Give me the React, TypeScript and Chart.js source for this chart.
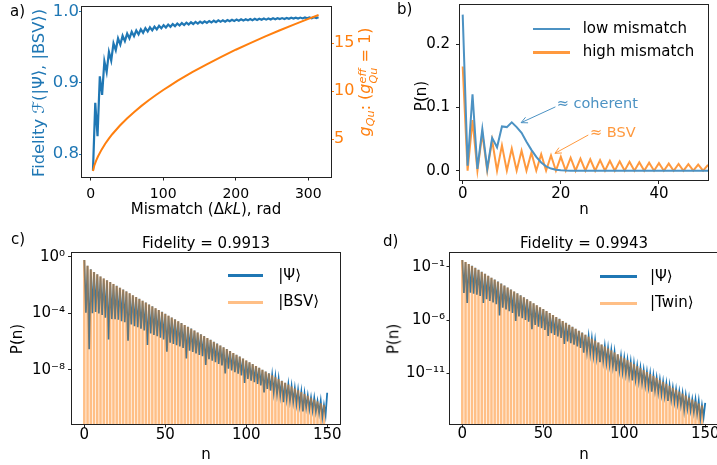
import React, { useEffect, useRef } from 'react';
import { Chart, registerables } from 'chart.js';

Chart.register(...registerables);

const FONT = "'DejaVu Sans', 'Liberation Sans', sans-serif";
const BLUE = '#1f77b4';
const ORANGE = '#ff7f0e';
const BLUE_B = '#4c92c3';
const ORANGE_B = '#ff993e';
const BAR_ORANGE = 'rgba(255,127,14,0.5)';
const SPINE = '#222222';

// ---------------- Panel a: fidelity and gain vs mismatch ----------------
const mismatchRad = [
  3.14, 6.28, 9.42, 12.57, 15.71, 18.85, 21.99, 25.13, 28.27, 31.42,
  34.56, 37.7, 40.84, 43.98, 47.12, 50.27, 53.41, 56.55, 59.69, 62.83,
  65.97, 69.12, 72.26, 75.4, 78.54, 81.68, 84.82, 87.96, 91.11, 94.25,
  97.39, 100.53, 103.67, 106.81, 109.96, 113.1, 116.24, 119.38, 122.52, 125.66,
  128.81, 131.95, 135.09, 138.23, 141.37, 144.51, 147.65, 150.8, 153.94, 157.08,
  160.22, 163.36, 166.5, 169.65, 172.79, 175.93, 179.07, 182.21, 185.35, 188.5,
  191.64, 194.78, 197.92, 201.06, 204.2, 207.35, 210.49, 213.63, 216.77, 219.91,
  223.05, 226.19, 229.34, 232.48, 235.62, 238.76, 241.9, 245.04, 248.19, 251.33,
  254.47, 257.61, 260.75, 263.89, 267.04, 270.18, 273.32, 276.46, 279.6, 282.74,
  285.88, 289.03, 292.17, 295.31, 298.45, 301.59, 304.73, 307.88, 311.02, 314.16,
];
const fidelityBSV = [
  0.777, 0.872, 0.825, 0.909, 0.883, 0.93, 0.915, 0.943, 0.931, 0.955,
  0.9455, 0.962, 0.9534, 0.9658, 0.9583, 0.9688, 0.962, 0.9712, 0.9652, 0.9731,
  0.9677, 0.9748, 0.9699, 0.9763, 0.9717, 0.9775, 0.9733, 0.9786, 0.9747, 0.9796,
  0.9761, 0.9805, 0.9773, 0.9814, 0.9783, 0.9821, 0.9792, 0.9829, 0.9801, 0.9835,
  0.9808, 0.9841, 0.9816, 0.9846, 0.9822, 0.9851, 0.9828, 0.9856, 0.9833, 0.986,
  0.9838, 0.9864, 0.9843, 0.9868, 0.9848, 0.9872, 0.9853, 0.9875, 0.9856, 0.9878,
  0.986, 0.9881, 0.9863, 0.9884, 0.9867, 0.9887, 0.987, 0.9889, 0.9873, 0.9892,
  0.9876, 0.9894, 0.9878, 0.9896, 0.9881, 0.9898, 0.9883, 0.99, 0.9886, 0.9902,
  0.9888, 0.9904, 0.9891, 0.9905, 0.9892, 0.9907, 0.9894, 0.9909, 0.9897, 0.991,
  0.9898, 0.9912, 0.99, 0.9913, 0.9902, 0.9914, 0.9903, 0.9916, 0.9905, 0.9917,
];
const mismatchRadG = [
  3.14, 5, 7.5, 10, 15, 20, 25, 30, 40, 50, 60, 70, 80, 90, 100, 110, 120, 130, 140,
  160, 180, 200, 220, 240, 260, 280, 300, 314.16,
];
const gQu = [
  1.7, 2.27, 2.78, 3.2, 3.92, 4.53, 5.07, 5.55, 6.41, 7.16, 7.85, 8.48, 9.06, 9.61, 10.13, 10.62, 11.1, 11.55, 11.99,
  12.81, 13.59, 14.33, 15.02, 15.69, 16.33, 16.95, 17.55, 17.95,
];
const aXTicks = [0, 100, 200, 300];
const aYTicks = [0.8, 0.9, 1.0];
const aY2Ticks = [5, 10, 15];

// ---------------- Panel b: photon number distributions ----------------
const nB = Array.from({ length: 51 }, (_, i) => i);
const pLowMismatch = [
  0.247, 0.008, 0.121, 0.003, 0.066, 0.003, 0.052, 0.037, 0.07, 0.069,
  0.0765, 0.069, 0.06, 0.046, 0.033, 0.022, 0.013, 0.007, 0.0034, 0.0015,
  0.0006, 0.0002, 0.0001, 0, 0, 0, 0, 0, 0, 0,
  0, 0, 0, 0, 0, 0, 0, 0, 0, 0,
  0, 0, 0, 0, 0, 0, 0, 0, 0, 0, 0,
];
const pHighMismatch = [
  0.165, 0, 0.08, 0, 0.059, 0, 0.048, 0, 0.04, 0,
  0.035, 0, 0.0315, 0, 0.0285, 0, 0.026, 0, 0.024, 0,
  0.022, 0, 0.0205, 0, 0.019, 0, 0.018, 0, 0.0168, 0,
  0.0158, 0, 0.0149, 0, 0.014, 0, 0.0133, 0, 0.0126, 0,
  0.0119, 0, 0.0113, 0, 0.0108, 0, 0.0102, 0, 0.0098, 0, 0.0093,
];
const bXTicks = [0, 20, 40];
const bYTicks = [0, 0.1, 0.2];

// ---------------- Panels c, d: log10 P(n) ----------------
const nAll = Array.from({ length: 151 }, (_, i) => i);
const nEven = Array.from({ length: 75 }, (_, i) => 2 * i);
const log10BarsBSV = [
  -0.22, -0.62, -0.88, -1.07, -1.23, -1.38, -1.52, -1.65, -1.78, -1.91,
  -2.05, -2.18, -2.31, -2.44, -2.57, -2.71, -2.84, -2.97, -3.1, -3.23,
  -3.37, -3.5, -3.63, -3.76, -3.89, -4.03, -4.16, -4.29, -4.42, -4.55,
  -4.69, -4.82, -4.95, -5.08, -5.21, -5.35, -5.48, -5.61, -5.74, -5.87,
  -6.01, -6.14, -6.27, -6.4, -6.53, -6.67, -6.8, -6.93, -7.06, -7.19,
  -7.33, -7.46, -7.59, -7.72, -7.85, -7.99, -8.12, -8.25, -8.38, -8.51,
  -8.65, -8.78, -8.91, -9.04, -9.17, -9.31, -9.44, -9.57, -9.7, -9.83,
  -9.97, -10.1, -10.23, -10.36, -10.49,
];
const log10PsiC = [
  -0.22, -3.95, -0.62, -6.54, -0.88, -3.98, -1.07, -3.9, -1.23, -4.0,
  -1.38, -4.1, -1.52, -4.3, -1.65, -5.84, -1.78, -4.4, -1.91, -4.4,
  -2.05, -4.45, -2.18, -4.55, -2.31, -4.62, -2.44, -5.93, -2.57, -4.78,
  -2.71, -4.9, -2.84, -4.98, -2.97, -5.08, -3.1, -5.2, -3.23, -6.24,
  -3.37, -5.42, -3.5, -5.52, -3.63, -5.62, -3.76, -5.72, -3.89, -5.84,
  -4.03, -6.71, -4.16, -6.07, -4.29, -6.16, -4.42, -6.25, -4.55, -6.34,
  -4.69, -6.44, -4.82, -7.18, -4.95, -6.64, -5.08, -6.73, -5.21, -6.83,
  -5.35, -6.94, -5.48, -7.03, -5.61, -7.65, -5.74, -7.24, -5.87, -7.34,
  -6.01, -7.46, -6.14, -7.57, -6.27, -7.68, -6.4, -8.25, -6.53, -7.91,
  -6.67, -8.04, -6.8, -8.16, -6.93, -8.27, -7.06, -8.39, -7.19, -8.93,
  -7.33, -8.64, -7.46, -8.76, -7.59, -8.87, -7.72, -8.99, -7.85, -9.1,
  -7.99, -9.6, -8.12, -9.35, -8.25, -9.46, -8.38, -9.58, -8.51, -9.69,
  -8.65, -9.81, -8.78, -10.28, -8.91, -10.03, -9.04, -10.15, -9.17, -10.26,
  -9.31, -10.39, -9.44, -10.5, -9.57, -10.94, -9.7, -10.65, -9.83, -10.75,
  -9.97, -10.85, -10.0, -10.95, -10.23, -11.05, -10.2, -11.35, -10.49, -11.2,
  -9.62,
];
const log10BarsTwin = [
  -0.35, -0.53, -0.72, -0.9, -1.09, -1.27, -1.46, -1.64, -1.83, -2.01,
  -2.19, -2.38, -2.56, -2.75, -2.93, -3.12, -3.3, -3.48, -3.67, -3.85,
  -4.04, -4.22, -4.41, -4.59, -4.78, -4.96, -5.14, -5.33, -5.51, -5.7,
  -5.88, -6.07, -6.25, -6.44, -6.62, -6.8, -6.99, -7.17, -7.36, -7.54,
  -7.73, -7.91, -8.09, -8.28, -8.46, -8.65, -8.83, -9.02, -9.2, -9.39,
  -9.57, -9.75, -9.94, -10.12, -10.31, -10.49, -10.68, -10.86, -11.05, -11.23,
  -11.41, -11.6, -11.78, -11.97, -12.15, -12.34, -12.52, -12.7, -12.89, -13.07,
  -13.26, -13.44, -13.63, -13.81, -14.0,
];
const log10PsiD = [
  -0.35, -3.44, -0.53, -4.38, -0.72, -3.41, -0.9, -3.5, -1.09, -3.6,
  -1.27, -3.71, -1.46, -4.38, -1.64, -4.03, -1.83, -4.19, -2.01, -4.33,
  -2.19, -4.49, -2.38, -5.55, -2.56, -4.82, -2.75, -4.98, -2.93, -5.14,
  -3.12, -5.31, -3.3, -6.07, -3.48, -5.64, -3.67, -5.8, -3.85, -5.97,
  -4.04, -6.13, -4.22, -6.84, -4.41, -6.45, -4.59, -6.6, -4.78, -6.75,
  -4.96, -6.9, -5.14, -7.47, -5.33, -7.22, -5.51, -7.38, -5.7, -7.52,
  -5.88, -7.67, -6.07, -8.22, -6.25, -7.99, -6.44, -8.15, -6.62, -8.29,
  -6.8, -8.45, -6.99, -8.6, -7.17, -9.04, -7.36, -8.94, -7.54, -9.11,
  -7.73, -9.29, -7.91, -9.46, -8.09, -9.93, -8.28, -9.8, -8.46, -9.97,
  -8.65, -10.14, -8.83, -10.31, -9.02, -10.79, -9.2, -10.66, -9.39, -10.84,
  -9.57, -11.01, -9.75, -11.19, -9.94, -11.66, -10.12, -11.54, -10.31, -11.71,
  -10.49, -11.88, -10.68, -12.06, -10.86, -12.23, -11.05, -12.71, -11.23, -12.58,
  -11.41, -12.76, -11.6, -12.93, -11.78, -13.11, -11.97, -13.58, -12.15, -13.45,
  -12.34, -13.63, -12.52, -13.79, -12.7, -13.96, -12.89, -14.42, -13.07, -14.29,
  -13.26, -14.45, -13.44, -14.61, -13.45, -14.77, -13.6, -15.23, -14.0, -15.09,
  -13.75,
];
const cdXTicks = [0, 50, 100, 150];
const cYTickExps = [0, -4, -8];
const dYTickExps = [-1, -6, -11];

// ---------------- helpers ----------------
const SUP: Record<string, string> = {
  '-': '\u207B', '0': '\u2070', '1': '\u00B9', '2': '\u00B2', '3': '\u00B3', '4': '\u2074',
  '5': '\u2075', '6': '\u2076', '7': '\u2077', '8': '\u2078', '9': '\u2079',
};
const sup = (e: number) => String(e).split('').map((c) => SUP[c]).join('');
const pow10 = (v: number) => Math.pow(10, v);

const framePlugin = {
  id: 'frame',
  afterDatasetsDraw(chart: any) {
    const { ctx, chartArea } = chart;
    const l = Math.round(chartArea.left);
    const t = Math.round(chartArea.top);
    const r = Math.round(chartArea.right);
    const b = Math.round(chartArea.bottom);
    ctx.save();
    ctx.strokeStyle = SPINE;
    ctx.lineWidth = 1;
    ctx.strokeRect(l - 0.5, t - 0.5, r - l + 1, b - t + 1);
    ctx.restore();
  },
};

const arrowsB = [
  { from: [18.9, 0.101], to: [11.9, 0.076], color: BLUE_B },
  { from: [25.6, 0.0565], to: [18.8, 0.0275], color: ORANGE_B },
];
const arrowPlugin = {
  id: 'arrows',
  afterDatasetsDraw(chart: any) {
    const { ctx, scales } = chart;
    ctx.save();
    ctx.lineWidth = 1;
    for (const a of arrowsB) {
      const x1 = scales.x.getPixelForValue(a.from[0]);
      const y1 = scales.y.getPixelForValue(a.from[1]);
      const x2 = scales.x.getPixelForValue(a.to[0]);
      const y2 = scales.y.getPixelForValue(a.to[1]);
      const ang = Math.atan2(y2 - y1, x2 - x1);
      ctx.strokeStyle = a.color;
      ctx.beginPath();
      ctx.moveTo(x1, y1);
      ctx.lineTo(x2, y2);
      const hl = 7;
      for (const s of [-1, 1]) {
        ctx.moveTo(x2, y2);
        ctx.lineTo(x2 - hl * Math.cos(ang + s * 0.45), y2 - hl * Math.sin(ang + s * 0.45));
      }
      ctx.stroke();
    }
    ctx.restore();
  },
};

type AxisOpts = {
  type?: string;
  position: string;
  min: number;
  max: number;
  ticks: number[];
  fmt: (v: number) => string;
  size: number;
  color: string;
  tickColor?: string;
  tl: number;
  pad: number;
  w?: number;
  h?: number;
};
function axis(o: AxisOpts) {
  return {
    type: o.type || 'linear',
    position: o.position,
    min: o.min,
    max: o.max,
    offset: false,
    afterBuildTicks: (s: any) => {
      s.ticks = o.ticks.map((v) => ({ value: v }));
    },
    afterFit: (s: any) => {
      if (o.w !== undefined) s.width = o.w;
      if (o.h !== undefined) s.height = o.h;
    },
    ticks: {
      autoSkip: false,
      maxRotation: 0,
      minRotation: 0,
      padding: o.pad,
      color: o.color,
      font: { family: FONT, size: o.size },
      callback: (v: any) => o.fmt(Number(v)),
    },
    grid: {
      display: true,
      drawOnChartArea: false,
      drawTicks: true,
      tickLength: o.tl,
      tickColor: o.tickColor || SPINE,
      tickWidth: 1,
      offset: false,
      color: 'rgba(0,0,0,0)',
    },
    border: { display: false },
  };
}

const baseOptions = {
  animation: false,
  responsive: false,
  maintainAspectRatio: false,
  devicePixelRatio: 1,
  events: [],
  plugins: { legend: { display: false }, tooltip: { enabled: false } },
};

function makeA(): any {
  return {
    type: 'line',
    data: {
      datasets: [
        {
          label: 'g',
          data: mismatchRadG.map((x, i) => ({ x, y: gQu[i] })),
          yAxisID: 'y1',
          borderColor: ORANGE,
          borderWidth: 2,
          pointRadius: 0,
          tension: 0,
          order: 0,
        },
        {
          label: 'F',
          data: mismatchRad.map((x, i) => ({ x, y: fidelityBSV[i] })),
          yAxisID: 'y',
          borderColor: BLUE,
          borderWidth: 2.2,
          pointRadius: 0,
          tension: 0,
          order: 1,
        },
      ],
    },
    options: {
      ...baseOptions,
      layout: { padding: { top: 20, left: 0, right: 0, bottom: 0 } },
      scales: {
        x: axis({ position: 'bottom', min: -12, max: 331.3, ticks: aXTicks, fmt: (v) => String(v), size: 14, color: '#000', tl: 3.5, pad: 5, h: 30 }),
        y: axis({ position: 'left', min: 0.768, max: 1.006, ticks: aYTicks, fmt: (v) => v.toFixed(1), size: 16.5, color: BLUE, tickColor: BLUE, tl: 3, pad: 0, w: 60 }),
        y1: axis({ position: 'right', min: 1.07, max: 18.78, ticks: aY2Ticks, fmt: (v) => String(v), size: 16, color: ORANGE, tickColor: ORANGE, tl: 3, pad: 0, w: 30 }),
      },
    },
    plugins: [framePlugin],
  };
}

function makeB(): any {
  return {
    type: 'line',
    data: {
      datasets: [
        {
          label: 'low mismatch',
          data: nB.map((n, i) => ({ x: n, y: pLowMismatch[i] })),
          borderColor: BLUE_B,
          borderWidth: 2,
          pointRadius: 0,
          tension: 0,
        },
        {
          label: 'high mismatch',
          data: nB.map((n, i) => ({ x: n, y: pHighMismatch[i] })),
          borderColor: ORANGE_B,
          borderWidth: 2,
          pointRadius: 0,
          tension: 0,
        },
      ],
    },
    options: {
      ...baseOptions,
      layout: { padding: { top: 20, left: 0, right: 10, bottom: 0 } },
      scales: {
        x: axis({ position: 'bottom', min: -0.55, max: 50, ticks: bXTicks, fmt: (v) => String(v), size: 15, color: '#000', tl: 4, pad: 1, h: 30 }),
        y: axis({ position: 'left', min: -0.0147, max: 0.2622, ticks: bYTicks, fmt: (v) => v.toFixed(1), size: 15, color: '#000', tl: 4, pad: 6, w: 55 }),
      },
    },
    plugins: [framePlugin, arrowPlugin],
  };
}

function makeLog(barsLog: number[], psiLog: number[], yMinExp: number, yMaxExp: number, exps: number[], yw: number, ytl: number, ypad: number, xpad: number, padR: number): any {
  return {
    type: 'bar',
    data: {
      datasets: [
        {
          type: 'bar',
          label: 'ref',
          data: nEven.map((n, i) => ({ x: n, y: pow10(barsLog[i]) })),
          backgroundColor: BAR_ORANGE,
          borderWidth: 0,
          barPercentage: 0.78,
          categoryPercentage: 1,
          order: 0,
        },
        {
          type: 'line',
          label: 'psi',
          data: nAll.map((n, i) => ({ x: n, y: pow10(psiLog[i]) })),
          borderColor: BLUE,
          borderWidth: 1.8,
          pointRadius: 0,
          tension: 0,
          order: 1,
        },
      ],
    },
    options: {
      ...baseOptions,
      layout: { padding: { top: 20, left: 0, right: padR, bottom: 0 } },
      scales: {
        x: axis({ position: 'bottom', min: -7.6, max: 157.9, ticks: cdXTicks, fmt: (v) => String(v), size: 15, color: '#000', tl: 3.5, pad: xpad, h: 30 }),
        y: axis({
          type: 'logarithmic',
          position: 'left',
          min: pow10(yMinExp),
          max: pow10(yMaxExp),
          ticks: exps.map(pow10),
          fmt: (v) => '10' + sup(Math.round(Math.log10(v))),
          size: 15,
          color: '#000',
          tl: ytl,
          pad: ypad,
          w: yw,
        }),
      },
    },
    plugins: [framePlugin],
  };
}

function ChartBox({ x, y, w, h, make }: { x: number; y: number; w: number; h: number; make: () => any }) {
  const ref = useRef<HTMLCanvasElement | null>(null);
  useEffect(() => {
    if (!ref.current) return;
    const c = new Chart(ref.current, make());
    return () => c.destroy();
  }, []);
  return <canvas ref={ref} width={w} height={h} style={{ position: 'absolute', left: x, top: y, width: w, height: h }} />;
}

function Label({ x, y, size = 15, color = '#000', anchor = 'center', rotate = false, children }: {
  x: number; y: number; size?: number; color?: string; anchor?: 'left' | 'center'; rotate?: boolean; children: React.ReactNode;
}) {
  const tr = (anchor === 'left' ? 'translate(0,-50%)' : 'translate(-50%,-50%)') + (rotate ? ' rotate(-90deg)' : '');
  return (
    <div style={{ position: 'absolute', left: x, top: y, fontSize: size, color, lineHeight: 1.15, whiteSpace: 'nowrap', transform: tr, fontFamily: FONT }}>
      {children}
    </div>
  );
}

function LegendLine({ x1, x2, y, color }: { x1: number; x2: number; y: number; color: string }) {
  return <div style={{ position: 'absolute', left: x1, top: y - 1.25, width: x2 - x1, height: 2.5, background: color }} />;
}

// stacked super/subscript: first line (eff) raised, second line (Qu) lowered
const scripts: React.CSSProperties = {
  display: 'inline-flex',
  flexDirection: 'column',
  fontSize: '0.7em',
  lineHeight: 1,
  verticalAlign: '0.4em',
  fontStyle: 'italic',
};

export default function App() {
  return (
    <div style={{ position: 'absolute', left: 0, top: 0, width: 717, height: 465, overflow: 'hidden', background: '#fff', fontFamily: FONT }}>
      <ChartBox x={22} y={-13} w={339} h={220} make={makeA} />
      <ChartBox x={405} y={-15} w={313} h={225} make={makeB} />
      <ChartBox x={12} y={233} w={338} h={221} make={() => makeLog(log10BarsBSV, log10PsiC, -11.83, 0.28, cYTickExps, 60, 4, 3, -1.5, 10)} />
      <ChartBox x={394} y={233} w={344} h={221} make={() => makeLog(log10BarsTwin, log10PsiD, -15.74, 0.31, dYTickExps, 56, 3.5, 1.5, -2.5, 20)} />

      {/* panel letters */}
      <Label x={10} y={12} anchor="left">a)</Label>
      <Label x={397} y={10} anchor="left">b)</Label>
      <Label x={11} y={240} anchor="left">c)</Label>
      <Label x={383} y={242} anchor="left">d)</Label>

      {/* panel a labels */}
      <Label x={206} y={210}>Mismatch (Δ<i>kL</i>), rad</Label>
      <Label x={39} y={93} size={16.3} color={BLUE} rotate>
        Fidelity <i>ℱ</i>(|Ψ⟩, |BSV⟩)
      </Label>
      <Label x={367} y={82} size={16} color={ORANGE} rotate>
        <span>
          <i>g</i>
          <sub style={{ fontSize: '0.7em', fontStyle: 'italic' }}>Qu</sub>: (<i>g</i>
          <span style={scripts}>
            <span>eff</span>
            <span>Qu</span>
          </span>{' '}
          = 1)
        </span>
      </Label>

      {/* panel b labels */}
      <Label x={584} y={210}>n</Label>
      <Label x={422} y={96} rotate>P(n)</Label>
      <LegendLine x1={533} x2={570} y={29} color={BLUE_B} />
      <LegendLine x1={533} x2={570} y={52.3} color={ORANGE_B} />
      <Label x={582.7} y={29} anchor="left">low mismatch</Label>
      <Label x={582.7} y={52.3} anchor="left">high mismatch</Label>
      <Label x={556.7} y={102.7} anchor="left" size={14.5} color={BLUE_B}>≈ coherent</Label>
      <Label x={590} y={131.7} anchor="left" size={14.5} color={ORANGE_B}>≈ BSV</Label>

      {/* panel c labels */}
      <Label x={206} y={243.5}>Fidelity = 0.9913</Label>
      <Label x={17.5} y={339} rotate>P(n)</Label>
      <Label x={206} y={455}>n</Label>
      <LegendLine x1={227.7} x2={263.3} y={275.7} color={BLUE} />
      <LegendLine x1={227.7} x2={263.3} y={302.3} color={BAR_ORANGE} />
      <Label x={278.3} y={275.7} anchor="left">|Ψ⟩</Label>
      <Label x={278.3} y={302.3} anchor="left">|BSV⟩</Label>

      {/* panel d labels */}
      <Label x={584} y={243.5}>Fidelity = 0.9943</Label>
      <Label x={394} y={339} rotate>P(n)</Label>
      <Label x={584} y={455}>n</Label>
      <LegendLine x1={600} x2={636.7} y={276.7} color={BLUE} />
      <LegendLine x1={600} x2={636.7} y={303.3} color={BAR_ORANGE} />
      <Label x={650} y={276.7} anchor="left">|Ψ⟩</Label>
      <Label x={650} y={303.3} anchor="left">|Twin⟩</Label>
    </div>
  );
}
